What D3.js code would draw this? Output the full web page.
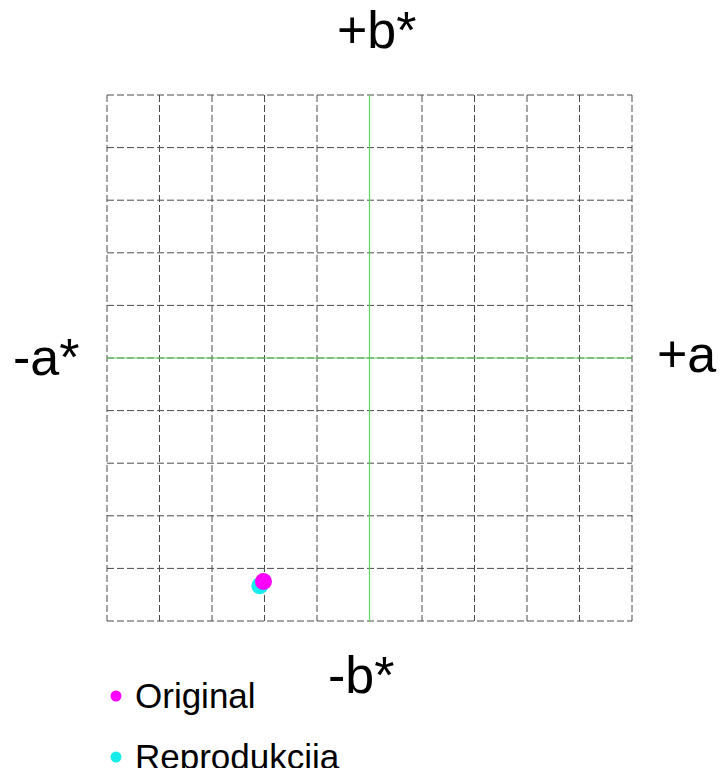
<!DOCTYPE html>
<html>
<head>
<meta charset="utf-8">
<script src="https://cdn.jsdelivr.net/npm/d3@7"></script>
<style>
  html, body { margin: 0; padding: 0; background: #fff; overflow: hidden; }
  svg { display: block; font-family: "Liberation Sans", Arial, sans-serif; }
</style>
</head>
<body>
<svg id="chart" width="722" height="776"></svg>
<script>
// a*/b* values
const seriesNames = ['Original', 'Reprodukcija'];
const seriesColors = ['#ff00ff', '#16ecec'];
const aValues = [-20.2, -20.9];
const bValues = [-42.5, -43.3];
const gridTicks = [-50, -40, -30, -20, -10, 0, 10, 20, 30, 40, 50];
const axisLabels = ['+b*', '-b*', '-a*', '+a'];

const svg = d3.select('#chart');

const x = d3.scaleLinear().domain([-50, 50]).range([107, 632]);
const y = d3.scaleLinear().domain([-50, 50]).range([621, 95]);

// the source picture is cut off just under the second legend line
svg.append('defs').append('clipPath')
  .attr('id', 'page')
  .append('rect')
    .attr('x', 0).attr('y', 0)
    .attr('width', 722).attr('height', 768);

// dashed grid
const grid = svg.append('g')
  .attr('stroke', '#4a4a4a')
  .attr('stroke-width', 1)
  .attr('stroke-dasharray', '7,3')
  .attr('fill', 'none');

grid.selectAll('line.v')
  .data(gridTicks)
  .join('line')
    .attr('class', 'v')
    .attr('x1', d => x(d)).attr('x2', d => x(d))
    .attr('y1', y(50)).attr('y2', y(-50));

grid.selectAll('line.h')
  .data(gridTicks)
  .join('line')
    .attr('class', 'h')
    .attr('y1', d => y(d)).attr('y2', d => y(d))
    .attr('x1', x(-50)).attr('x2', x(50));

// green zero axes
svg.append('line')
  .attr('x1', x(0)).attr('x2', x(0))
  .attr('y1', y(50)).attr('y2', y(-50))
  .attr('stroke', '#5cd65c').attr('stroke-width', 1.2);
svg.append('line')
  .attr('x1', x(-50)).attr('x2', x(50))
  .attr('y1', y(0)).attr('y2', y(0))
  .attr('stroke', '#5cd65c').attr('stroke-width', 1.2);

// points, reproduction underneath
const pts = seriesNames.map((name, i) => ({ name, a: aValues[i], b: bValues[i], color: seriesColors[i] }));
svg.append('g')
  .selectAll('circle')
  .data(pts.slice().reverse())
  .join('circle')
    .attr('cx', d => x(d.a))
    .attr('cy', d => y(d.b))
    .attr('r', 8.5)
    .attr('fill', d => d.color);

// axis labels
const labelPos = [
  { x: 337, y: 48, anchor: 'start' },
  { x: 328, y: 693, anchor: 'start' },
  { x: 13, y: 375, anchor: 'start' },
  { x: 657, y: 372, anchor: 'start' },
];
svg.append('g')
  .attr('font-size', 52)
  .attr('fill', '#000')
  .selectAll('text')
  .data(axisLabels)
  .join('text')
    .attr('x', (d, i) => labelPos[i].x)
    .attr('y', (d, i) => labelPos[i].y)
    .attr('text-anchor', (d, i) => labelPos[i].anchor)
    .text(d => d);

// legend
const legend = svg.append('g')
  .attr('clip-path', 'url(#page)')
  .selectAll('g')
  .data(pts)
  .join('g')
    .attr('transform', (d, i) => `translate(116,${696 + i * 61})`);
legend.append('circle')
  .attr('r', 5.5)
  .attr('fill', d => d.color);
legend.append('text')
  .attr('x', 19)
  .attr('y', 12)
  .attr('font-size', 35)
  .attr('fill', '#000')
  .text(d => d.name);
</script>
</body>
</html>
